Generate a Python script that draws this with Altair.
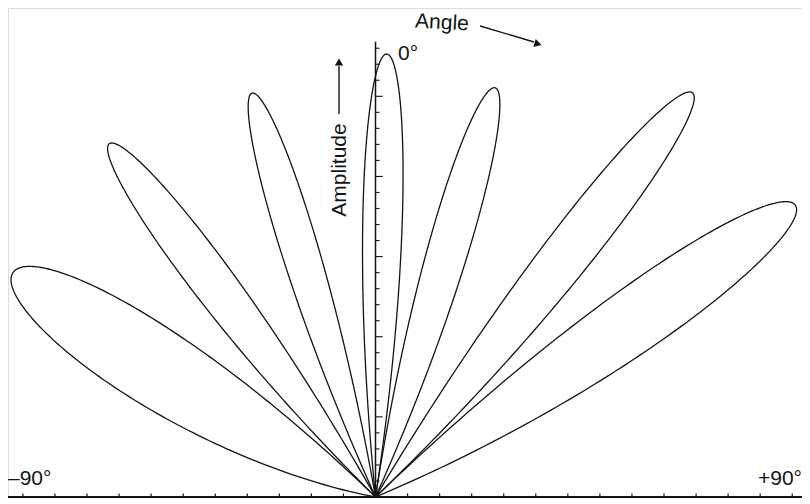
import altair as alt
import pandas as pd

# ---- lobe parameters (1 unit = one y-tick step) ----
lobe_names = ["L3", "L2", "L1", "C", "R1", "R2", "R3"]
lobe_angle_deg = [-58.3, -37.0, -17.0, 1.45, 16.3, 38.1, 55.2]
lobe_amplitude = [26.6, 27.6, 26.35, 27.65, 26.6, 32.05, 31.9]
lobe_halfwidth = [0.132, 0.108, 0.118, 0.125, 0.128, 0.103, 0.100]  # in sin(angle)

# ---- axis ticks ----
x_tick_pos = [-22, -20, -18, -16, -14, -12, -10, -8, -6, -4, -2,
              2, 4, 6, 8, 10, 12, 14, 16, 18, 20, 22, 24, 26]
y_tick_pos = [1, 2, 3, 4, 5, 6, 7, 8, 9, 10, 11, 12, 13, 14, 15, 16, 17, 18,
              19, 20, 21, 22, 23, 24, 25, 26, 27, 28]
y_axis_top = 28.4

label_left = "\u201390\u00b0"
label_right = "+90\u00b0"
label_top = "0\u00b0"
label_angle = "Angle"
label_amp = "Amplitude"

X_DOMAIN = [-22.93, 26.61]
Y_DOMAIN = [-0.0624, 30.51]
W, H = 794, 490
INK = "#141414"
FONT = "Liberation Sans"

xs = alt.Scale(domain=X_DOMAIN, nice=False, zero=False)
ys = alt.Scale(domain=Y_DOMAIN, nice=False, zero=False)

lobe_df = pd.DataFrame({
    "name": lobe_names,
    "angle": lobe_angle_deg,
    "amp": lobe_amplitude,
    "hw": lobe_halfwidth,
})

N = 200
lobes = (
    alt.Chart(lobe_df)
    .transform_calculate(t=f"sequence(0, {N + 1})")
    .transform_flatten(["t"])
    .transform_calculate(u0="sin(datum.angle * PI / 180)")
    .transform_calculate(uu=f"datum.u0 - datum.hw + 2 * datum.hw * datum.t / {N}")
    .transform_calculate(uc="clamp(datum.uu, -1, 1)")
    .transform_calculate(r="max(0, datum.amp * cos(PI / 2 * (datum.uu - datum.u0) / datum.hw))")
    .transform_calculate(px="datum.r * datum.uc")
    .transform_calculate(py="datum.r * sqrt(1 - datum.uc * datum.uc)")
    .mark_line(color=INK, strokeWidth=1.3)
    .encode(
        x=alt.X("px:Q", scale=xs, axis=None),
        y=alt.Y("py:Q", scale=ys, axis=None),
        detail="name:N",
        order="t:Q",
    )
)

# axes lines
xaxis_df = pd.DataFrame({"x": [X_DOMAIN[0]], "x2": [X_DOMAIN[1]], "y": [0.0]})
xaxis = alt.Chart(xaxis_df).mark_rule(color=INK, strokeWidth=1.8).encode(
    x=alt.X("x:Q", scale=xs, axis=None), x2="x2:Q",
    y=alt.Y("y:Q", scale=ys, axis=None))

yaxis_df = pd.DataFrame({"x": [0.0], "y": [Y_DOMAIN[0]], "y2": [y_axis_top]})
yaxis = alt.Chart(yaxis_df).mark_rule(color=INK, strokeWidth=1.5).encode(
    x=alt.X("x:Q", scale=xs, axis=None),
    y=alt.Y("y:Q", scale=ys, axis=None), y2="y2:Q")

xt_df = pd.DataFrame({"x": x_tick_pos, "y": [0.0] * len(x_tick_pos),
                      "y2": [0.22] * len(x_tick_pos)})
xticks = alt.Chart(xt_df).mark_rule(color=INK, strokeWidth=1.2).encode(
    x=alt.X("x:Q", scale=xs, axis=None),
    y=alt.Y("y:Q", scale=ys, axis=None), y2="y2:Q")

yt_df = pd.DataFrame({"y": y_tick_pos, "x": [0.0] * len(y_tick_pos),
                      "x2": [0.45 if v % 5 == 0 else 0.25 for v in y_tick_pos]})
yticks = alt.Chart(yt_df).mark_rule(color=INK, strokeWidth=1.1).encode(
    x=alt.X("x:Q", scale=xs, axis=None), x2="x2:Q",
    y=alt.Y("y:Q", scale=ys, axis=None))

# annotations (pixel positions inside plot area)
def txt(s, x, y, align="left", baseline="alphabetic", angle=0, size=21):
    return alt.Chart(pd.DataFrame({"s": [s]})).mark_text(
        align=align, baseline=baseline, angle=angle, font=FONT,
        fontSize=size, color=INK).encode(
        text="s:N", x=alt.value(x), y=alt.value(y))

t_left = txt(label_left, 0, 477)
t_right = txt(label_right, 794, 477, align="right")
t_top = txt(label_top, 390, 52)
t_angle = txt(label_angle, 434, 15, align="center", baseline="middle", angle=3)
t_amp = txt(label_amp, 332, 162, align="center", baseline="middle", angle=270)

ang_line = alt.Chart(pd.DataFrame({"k": [1]})).mark_rule(color=INK, strokeWidth=1.4).encode(
    x=alt.value(472), y=alt.value(18), x2=alt.value(526), y2=alt.value(34))
ang_head = alt.Chart(pd.DataFrame({"k": [1]})).mark_point(
    shape="triangle-right", filled=True, color=INK, size=70, angle=17, opacity=1).encode(
    x=alt.value(530), y=alt.value(36))
amp_line = alt.Chart(pd.DataFrame({"k": [1]})).mark_rule(color=INK, strokeWidth=1.4).encode(
    x=alt.value(331), y=alt.value(106), y2=alt.value(58))
amp_head = alt.Chart(pd.DataFrame({"k": [1]})).mark_point(
    shape="triangle-up", filled=True, color=INK, size=70, opacity=1).encode(
    x=alt.value(331), y=alt.value(54))

chart = alt.layer(
    xaxis, yaxis, xticks, yticks, lobes,
    t_left, t_right, t_top, t_angle, t_amp,
    ang_line, ang_head, amp_line, amp_head,
).properties(
    width=W, height=H, padding=0,
    autosize=alt.AutoSizeParams(type="none"),
).configure_view(stroke=None).configure(background="white")

chart.save("out.html", embed_options={"renderer": "svg", "actions": False})
